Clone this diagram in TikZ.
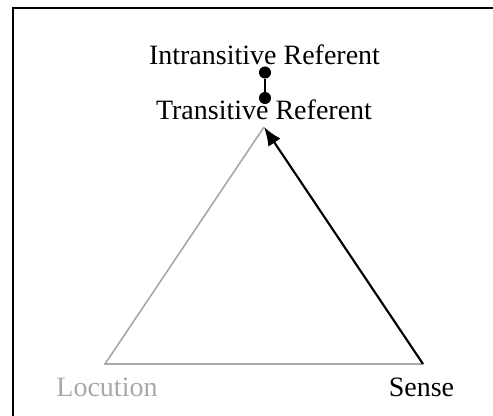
\documentclass[tikz,border=0pt]{standalone}
\usepackage{fontspec}
\setmainfont{Liberation Serif}
\usetikzlibrary{positioning,arrows.meta}
\definecolor{locgray}{gray}{0.66}

\begin{document}
\begin{tikzpicture}[x=0.75pt,y=-0.75pt,>={Latex[length=14pt,width=11pt]},
    font=\fontsize{21}{25}\selectfont]
  \useasboundingbox (0,0) rectangle (493,416);
  \draw[line width=1.5pt] (12.5,430) -- (12.5,8) -- (510,8);
  \coordinate (apex) at (264,127);
  \coordinate (loc) at (105,364);
  \coordinate (sen) at (423,364);
  \draw[locgray,line width=1.2pt] (apex) -- (loc) -- (sen);
  \draw[->,line width=1.6pt] (sen) -- (apex);
  \node[locgray,anchor=base] (locution) at (107,397) {Locution};
  \node[anchor=base] (sense) at (421.5,397) {Sense};
  \node[anchor=base] (trans) at (264,120) {Transitive Referent};
  \node[anchor=base] (intrans) at (264.5,65) {Intransitive Referent};
  \node[circle,fill,inner sep=3.2pt] (d1) at (265,72.5) {};
  \node[circle,fill,inner sep=3.2pt] (d2) at (265,98) {};
  \draw[line width=1.5pt] (d1) -- (d2);
\end{tikzpicture}
\end{document}
